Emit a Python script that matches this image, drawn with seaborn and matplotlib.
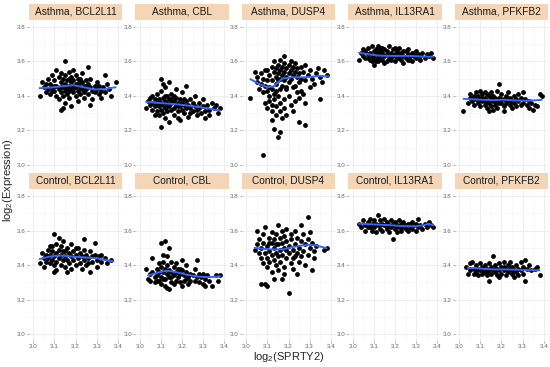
import matplotlib
matplotlib.use('Agg')
import matplotlib.pyplot as plt
from matplotlib.patches import Rectangle
import seaborn as sns
import pandas as pd

groups = ['Asthma', 'Control']
genes = ['BCL2L11', 'CBL', 'DUSP4', 'IL13RA1', 'PFKFB2']
x_ticks = [3.0, 3.1, 3.2, 3.3, 3.4]
y_ticks = [3.0, 3.2, 3.4, 3.6, 3.8]

# ---- scatter points (log2 SPRTY2, log2 expression) ----
asthma_bcl2l11 = [(3.03,3.40),(3.04,3.48),(3.05,3.45),(3.06,3.42),(3.07,3.50),(3.07,3.44),(3.08,3.47),(3.08,3.41),(3.09,3.52),(3.09,3.45),(3.10,3.43),(3.10,3.49),(3.11,3.46),(3.11,3.40),(3.12,3.51),(3.12,3.44),(3.12,3.38),(3.13,3.48),(3.13,3.42),(3.13,3.53),(3.14,3.45),(3.14,3.40),(3.14,3.50),(3.15,3.47),(3.15,3.43),(3.15,3.36),(3.15,3.52),(3.16,3.45),(3.16,3.49),(3.16,3.41),(3.17,3.54),(3.17,3.46),(3.17,3.43),(3.17,3.39),(3.18,3.48),(3.18,3.44),(3.18,3.51),(3.18,3.34),(3.19,3.46),(3.19,3.42),(3.19,3.55),(3.19,3.49),(3.20,3.45),(3.20,3.40),(3.20,3.52),(3.21,3.47),(3.21,3.43),(3.21,3.37),(3.22,3.50),(3.22,3.45),(3.22,3.41),(3.23,3.48),(3.23,3.44),(3.23,3.53),(3.24,3.46),(3.24,3.42),(3.24,3.39),(3.25,3.49),(3.25,3.44),(3.26,3.47),(3.26,3.41),(3.26,3.57),(3.27,3.45),(3.27,3.50),(3.28,3.43),(3.28,3.38),(3.29,3.46),(3.29,3.42),(3.30,3.48),(3.30,3.44),(3.31,3.41),(3.31,3.46),(3.32,3.43),(3.32,3.39),(3.33,3.45),(3.34,3.42),(3.35,3.47),(3.36,3.44),(3.37,3.40),(3.39,3.48),(3.15,3.60),(3.13,3.32),(3.14,3.33),(3.27,3.35),(3.34,3.52),(3.11,3.55),(3.20,3.47),(3.16,3.44),(3.14,3.46),(3.10,3.46),(3.22,3.48),(3.19,3.44),(3.17,3.50),(3.13,3.45),(3.25,3.46),(3.06,3.47),(3.09,3.43),(3.21,3.50)]
asthma_cbl = [(3.03,3.33),(3.04,3.37),(3.05,3.35),(3.05,3.39),(3.06,3.36),(3.06,3.32),(3.07,3.38),(3.07,3.34),(3.08,3.41),(3.08,3.36),(3.08,3.31),(3.09,3.38),(3.09,3.34),(3.09,3.29),(3.10,3.43),(3.10,3.36),(3.10,3.32),(3.10,3.50),(3.10,3.22),(3.11,3.39),(3.11,3.35),(3.11,3.30),(3.12,3.37),(3.12,3.33),(3.12,3.45),(3.12,3.27),(3.13,3.40),(3.13,3.36),(3.13,3.31),(3.14,3.38),(3.14,3.34),(3.14,3.48),(3.14,3.25),(3.15,3.36),(3.15,3.32),(3.15,3.41),(3.16,3.37),(3.16,3.33),(3.16,3.29),(3.17,3.39),(3.17,3.35),(3.17,3.44),(3.18,3.36),(3.18,3.31),(3.18,3.27),(3.19,3.38),(3.19,3.34),(3.20,3.36),(3.20,3.32),(3.20,3.42),(3.21,3.35),(3.21,3.30),(3.22,3.37),(3.22,3.33),(3.22,3.46),(3.23,3.35),(3.23,3.28),(3.24,3.38),(3.24,3.33),(3.25,3.36),(3.25,3.31),(3.26,3.34),(3.26,3.40),(3.27,3.32),(3.27,3.29),(3.28,3.36),(3.28,3.33),(3.29,3.30),(3.30,3.34),(3.30,3.38),(3.31,3.31),(3.31,3.27),(3.32,3.35),(3.33,3.32),(3.33,3.29),(3.34,3.36),(3.35,3.33),(3.36,3.35),(3.37,3.30),(3.38,3.33),(3.11,3.47),(3.19,3.26),(3.16,3.40),(3.13,3.34),(3.09,3.36),(3.21,3.38),(3.07,3.29),(3.06,3.40),(3.15,3.38),(3.18,3.34),(3.24,3.30),(3.12,3.40)]
asthma_dusp4 = [(3.10,3.55),(3.11,3.52),(3.12,3.57),(3.12,3.49),(3.13,3.54),(3.13,3.60),(3.14,3.51),(3.14,3.56),(3.14,3.47),(3.15,3.58),(3.15,3.53),(3.15,3.49),(3.16,3.55),(3.16,3.61),(3.16,3.50),(3.17,3.57),(3.17,3.52),(3.17,3.46),(3.18,3.59),(3.18,3.54),(3.18,3.49),(3.18,3.63),(3.19,3.56),(3.19,3.51),(3.19,3.44),(3.20,3.58),(3.20,3.53),(3.20,3.48),(3.21,3.55),(3.21,3.60),(3.21,3.50),(3.22,3.57),(3.22,3.52),(3.22,3.45),(3.23,3.54),(3.23,3.59),(3.24,3.51),(3.24,3.56),(3.25,3.53),(3.25,3.48),(3.26,3.57),(3.26,3.50),(3.27,3.54),(3.28,3.58),(3.28,3.49),(3.29,3.52),(3.30,3.55),(3.31,3.50),(3.32,3.47),(3.33,3.53),(3.34,3.56),(3.35,3.51),(3.37,3.55),(3.38,3.52),(3.36,3.48),(3.30,3.45),(3.02,3.39),(3.04,3.54),(3.05,3.48),(3.05,3.51),(3.06,3.44),(3.07,3.47),(3.07,3.53),(3.08,3.42),(3.08,3.50),(3.09,3.46),(3.09,3.55),(3.10,3.43),(3.10,3.49),(3.11,3.45),(3.11,3.40),(3.12,3.44),(3.13,3.41),(3.14,3.43),(3.09,3.36),(3.10,3.33),(3.11,3.37),(3.12,3.31),(3.12,3.35),(3.13,3.38),(3.14,3.29),(3.14,3.34),(3.15,3.40),(3.16,3.36),(3.16,3.31),(3.17,3.27),(3.18,3.38),(3.18,3.33),(3.19,3.29),(3.20,3.40),(3.21,3.35),(3.22,3.31),(3.23,3.37),(3.24,3.42),(3.25,3.39),(3.26,3.43),(3.27,3.41),(3.28,3.36),(3.15,3.16),(3.16,3.19),(3.13,3.21),(3.12,3.26),(3.25,3.25),(3.28,3.23),(3.08,3.06),(3.35,3.38),(3.19,3.45),(3.23,3.46),(3.16,3.44)]
asthma_il13ra1 = [(3.03,3.61),(3.04,3.65),(3.05,3.67),(3.05,3.63),(3.06,3.66),(3.06,3.62),(3.07,3.68),(3.07,3.64),(3.08,3.65),(3.08,3.61),(3.09,3.69),(3.09,3.63),(3.10,3.66),(3.10,3.62),(3.10,3.58),(3.11,3.64),(3.11,3.67),(3.12,3.62),(3.12,3.65),(3.12,3.60),(3.13,3.68),(3.13,3.63),(3.14,3.65),(3.14,3.61),(3.15,3.67),(3.15,3.63),(3.15,3.59),(3.16,3.64),(3.16,3.66),(3.17,3.62),(3.17,3.69),(3.18,3.65),(3.18,3.61),(3.19,3.63),(3.19,3.67),(3.20,3.64),(3.20,3.60),(3.21,3.66),(3.21,3.62),(3.22,3.64),(3.22,3.68),(3.23,3.61),(3.23,3.65),(3.24,3.63),(3.24,3.59),(3.25,3.66),(3.25,3.62),(3.26,3.64),(3.26,3.67),(3.27,3.61),(3.27,3.63),(3.28,3.65),(3.28,3.60),(3.29,3.63),(3.30,3.62),(3.30,3.66),(3.31,3.64),(3.32,3.61),(3.32,3.63),(3.33,3.65),(3.34,3.62),(3.35,3.64),(3.36,3.63),(3.37,3.65),(3.38,3.62),(3.11,3.60),(3.14,3.68),(3.18,3.63),(3.20,3.68),(3.16,3.60),(3.13,3.66),(3.22,3.62),(3.09,3.60),(3.07,3.62),(3.24,3.66),(3.26,3.61),(3.12,3.69),(3.29,3.65)]
asthma_pfkfb2 = [(3.02,3.31),(3.04,3.36),(3.05,3.39),(3.05,3.41),(3.06,3.37),(3.07,3.40),(3.07,3.35),(3.08,3.42),(3.08,3.38),(3.09,3.36),(3.09,3.40),(3.10,3.43),(3.10,3.38),(3.10,3.34),(3.11,3.41),(3.11,3.37),(3.12,3.39),(3.12,3.35),(3.12,3.42),(3.13,3.37),(3.13,3.33),(3.14,3.40),(3.14,3.36),(3.15,3.38),(3.15,3.42),(3.15,3.34),(3.16,3.37),(3.16,3.40),(3.17,3.35),(3.17,3.39),(3.18,3.43),(3.18,3.37),(3.18,3.33),(3.19,3.47),(3.19,3.39),(3.20,3.36),(3.20,3.41),(3.21,3.38),(3.21,3.34),(3.22,3.40),(3.22,3.36),(3.23,3.38),(3.23,3.42),(3.24,3.35),(3.24,3.39),(3.25,3.37),(3.25,3.33),(3.26,3.40),(3.26,3.36),(3.27,3.38),(3.27,3.34),(3.28,3.41),(3.28,3.37),(3.29,3.35),(3.29,3.39),(3.30,3.36),(3.31,3.38),(3.32,3.35),(3.33,3.37),(3.33,3.33),(3.34,3.36),(3.35,3.32),(3.36,3.35),(3.37,3.34),(3.38,3.41),(3.39,3.40),(3.14,3.31),(3.16,3.32),(3.21,3.31),(3.11,3.39),(3.13,3.41),(3.19,3.36),(3.06,3.39),(3.09,3.38),(3.22,3.38),(3.17,3.37),(3.20,3.38),(3.30,3.42),(3.12,3.37),(3.24,3.37)]
control_bcl2l11 = [(3.03,3.41),(3.04,3.47),(3.05,3.44),(3.05,3.39),(3.06,3.46),(3.06,3.42),(3.07,3.49),(3.07,3.44),(3.08,3.51),(3.08,3.41),(3.08,3.46),(3.09,3.43),(3.09,3.48),(3.10,3.58),(3.10,3.45),(3.10,3.36),(3.10,3.40),(3.11,3.52),(3.11,3.47),(3.11,3.42),(3.11,3.37),(3.12,3.56),(3.12,3.49),(3.12,3.44),(3.13,3.46),(3.13,3.40),(3.13,3.51),(3.14,3.43),(3.14,3.48),(3.14,3.54),(3.15,3.45),(3.15,3.39),(3.16,3.50),(3.16,3.43),(3.16,3.36),(3.17,3.47),(3.17,3.41),(3.18,3.52),(3.18,3.45),(3.18,3.38),(3.19,3.48),(3.19,3.43),(3.20,3.46),(3.20,3.40),(3.21,3.50),(3.21,3.44),(3.22,3.47),(3.22,3.41),(3.23,3.45),(3.23,3.38),(3.24,3.55),(3.24,3.49),(3.24,3.43),(3.25,3.46),(3.26,3.44),(3.26,3.41),(3.27,3.48),(3.27,3.36),(3.28,3.45),(3.28,3.42),(3.29,3.53),(3.29,3.46),(3.30,3.43),(3.30,3.39),(3.31,3.45),(3.32,3.42),(3.32,3.46),(3.34,3.44),(3.35,3.41),(3.37,3.43),(3.15,3.48),(3.20,3.50),(3.25,3.40),(3.09,3.51)]
control_cbl = [(3.03,3.38),(3.04,3.32),(3.05,3.35),(3.05,3.31),(3.06,3.44),(3.06,3.36),(3.07,3.33),(3.07,3.30),(3.08,3.38),(3.08,3.34),(3.09,3.41),(3.09,3.31),(3.09,3.36),(3.10,3.53),(3.10,3.39),(3.10,3.33),(3.10,3.29),(3.11,3.46),(3.11,3.36),(3.11,3.42),(3.12,3.54),(3.12,3.38),(3.12,3.32),(3.12,3.28),(3.13,3.45),(3.13,3.40),(3.13,3.35),(3.13,3.27),(3.14,3.50),(3.14,3.37),(3.14,3.33),(3.14,3.26),(3.15,3.42),(3.15,3.36),(3.15,3.30),(3.16,3.39),(3.16,3.34),(3.17,3.41),(3.17,3.36),(3.17,3.31),(3.18,3.38),(3.18,3.33),(3.19,3.35),(3.19,3.30),(3.20,3.37),(3.20,3.28),(3.20,3.43),(3.21,3.34),(3.21,3.31),(3.22,3.36),(3.22,3.40),(3.23,3.33),(3.23,3.29),(3.24,3.35),(3.24,3.31),(3.25,3.34),(3.26,3.38),(3.26,3.31),(3.27,3.43),(3.27,3.33),(3.28,3.35),(3.28,3.30),(3.29,3.33),(3.30,3.35),(3.30,3.29),(3.31,3.32),(3.31,3.28),(3.32,3.34),(3.33,3.31),(3.34,3.28),(3.36,3.34),(3.37,3.31),(3.38,3.34),(3.16,3.29),(3.18,3.36),(3.11,3.32),(3.15,3.33),(3.19,3.38),(3.08,3.31),(3.22,3.32)]
control_dusp4 = [(3.04,3.49),(3.05,3.60),(3.05,3.52),(3.06,3.47),(3.06,3.55),(3.07,3.44),(3.07,3.50),(3.07,3.29),(3.08,3.58),(3.08,3.41),(3.08,3.53),(3.09,3.47),(3.09,3.62),(3.09,3.29),(3.10,3.51),(3.10,3.44),(3.10,3.39),(3.10,3.28),(3.11,3.56),(3.11,3.48),(3.11,3.42),(3.12,3.53),(3.12,3.59),(3.12,3.46),(3.12,3.36),(3.13,3.50),(3.13,3.55),(3.13,3.32),(3.13,3.43),(3.14,3.58),(3.14,3.47),(3.14,3.40),(3.15,3.63),(3.15,3.52),(3.15,3.45),(3.15,3.37),(3.16,3.56),(3.16,3.49),(3.16,3.42),(3.17,3.60),(3.17,3.53),(3.17,3.46),(3.17,3.32),(3.18,3.57),(3.18,3.50),(3.18,3.39),(3.18,3.35),(3.19,3.54),(3.19,3.44),(3.19,3.61),(3.20,3.51),(3.20,3.47),(3.20,3.24),(3.21,3.58),(3.21,3.41),(3.21,3.55),(3.22,3.49),(3.22,3.44),(3.22,3.38),(3.23,3.60),(3.23,3.52),(3.24,3.47),(3.24,3.35),(3.24,3.56),(3.25,3.50),(3.25,3.42),(3.26,3.63),(3.26,3.54),(3.26,3.45),(3.27,3.58),(3.27,3.48),(3.28,3.52),(3.28,3.40),(3.29,3.68),(3.29,3.55),(3.29,3.46),(3.30,3.59),(3.30,3.50),(3.31,3.37),(3.31,3.53),(3.32,3.48),(3.32,3.44),(3.33,3.51),(3.38,3.50),(3.37,3.49),(3.14,3.52),(3.19,3.49),(3.23,3.45),(3.11,3.53)]
control_il13ra1 = [(3.03,3.64),(3.04,3.62),(3.05,3.66),(3.06,3.63),(3.06,3.60),(3.07,3.65),(3.08,3.62),(3.08,3.67),(3.09,3.64),(3.09,3.60),(3.10,3.66),(3.10,3.62),(3.11,3.64),(3.11,3.59),(3.12,3.69),(3.12,3.63),(3.13,3.66),(3.13,3.61),(3.14,3.64),(3.14,3.60),(3.15,3.67),(3.15,3.63),(3.16,3.61),(3.16,3.65),(3.17,3.63),(3.17,3.59),(3.18,3.66),(3.18,3.62),(3.19,3.64),(3.19,3.55),(3.20,3.61),(3.20,3.65),(3.21,3.63),(3.21,3.59),(3.22,3.66),(3.22,3.62),(3.23,3.64),(3.23,3.60),(3.24,3.62),(3.24,3.65),(3.25,3.61),(3.25,3.63),(3.26,3.64),(3.26,3.60),(3.27,3.62),(3.28,3.65),(3.28,3.61),(3.29,3.63),(3.30,3.60),(3.30,3.64),(3.31,3.67),(3.31,3.62),(3.32,3.63),(3.33,3.61),(3.34,3.64),(3.35,3.62),(3.36,3.65),(3.37,3.63),(3.38,3.62),(3.13,3.63),(3.16,3.62),(3.20,3.63),(3.10,3.64),(3.07,3.62),(3.23,3.62),(3.27,3.64)]
control_pfkfb2 = [(3.03,3.39),(3.04,3.35),(3.05,3.41),(3.05,3.37),(3.06,3.42),(3.07,3.38),(3.07,3.35),(3.08,3.40),(3.08,3.36),(3.09,3.38),(3.09,3.34),(3.10,3.41),(3.10,3.37),(3.11,3.39),(3.11,3.35),(3.12,3.40),(3.12,3.36),(3.13,3.38),(3.13,3.34),(3.14,3.41),(3.14,3.31),(3.14,3.37),(3.15,3.39),(3.15,3.35),(3.16,3.45),(3.16,3.37),(3.17,3.40),(3.17,3.36),(3.18,3.38),(3.18,3.34),(3.19,3.41),(3.19,3.37),(3.20,3.39),(3.20,3.35),(3.21,3.42),(3.21,3.37),(3.22,3.38),(3.22,3.34),(3.23,3.40),(3.23,3.36),(3.24,3.38),(3.24,3.42),(3.25,3.35),(3.25,3.39),(3.26,3.37),(3.26,3.33),(3.27,3.40),(3.27,3.36),(3.28,3.38),(3.28,3.34),(3.29,3.42),(3.29,3.37),(3.30,3.39),(3.30,3.35),(3.31,3.31),(3.31,3.43),(3.32,3.38),(3.33,3.40),(3.34,3.37),(3.36,3.38),(3.37,3.39),(3.38,3.34),(3.13,3.36),(3.17,3.38),(3.21,3.39),(3.25,3.37),(3.11,3.37),(3.19,3.33)]

# ---- smoothed trend (loess) ----
smooth_asthma_bcl2l11 = ([3.03,3.08,3.13,3.19,3.24,3.29,3.34,3.39], [3.445,3.448,3.455,3.462,3.450,3.437,3.440,3.450])
smooth_asthma_cbl = ([3.03,3.10,3.17,3.24,3.31,3.38], [3.365,3.358,3.352,3.342,3.330,3.315])
smooth_asthma_dusp4 = ([3.02,3.06,3.10,3.13,3.17,3.22,3.28,3.34,3.39], [3.497,3.470,3.450,3.455,3.500,3.508,3.508,3.515,3.513])
smooth_asthma_il13ra1 = ([3.03,3.08,3.13,3.20,3.27,3.33,3.38], [3.650,3.640,3.633,3.632,3.632,3.628,3.627])
smooth_asthma_pfkfb2 = ([3.02,3.10,3.16,3.21,3.27,3.33,3.39], [3.383,3.378,3.375,3.378,3.373,3.372,3.377])
smooth_control_bcl2l11 = ([3.03,3.08,3.12,3.18,3.24,3.30,3.35,3.38], [3.435,3.450,3.456,3.450,3.445,3.440,3.428,3.422])
smooth_control_cbl = ([3.04,3.08,3.13,3.17,3.22,3.28,3.33,3.38], [3.340,3.355,3.368,3.360,3.345,3.333,3.330,3.335])
smooth_control_dusp4 = ([3.04,3.10,3.17,3.22,3.27,3.31,3.35,3.38], [3.500,3.492,3.490,3.505,3.515,3.518,3.508,3.498])
smooth_control_il13ra1 = ([3.03,3.10,3.17,3.24,3.30,3.34,3.36,3.38], [3.640,3.636,3.632,3.626,3.625,3.633,3.640,3.630])
smooth_control_pfkfb2 = ([3.04,3.10,3.16,3.22,3.28,3.34,3.38], [3.385,3.380,3.375,3.375,3.373,3.371,3.370])

points = {
    ('Asthma', 'BCL2L11'): asthma_bcl2l11, ('Asthma', 'CBL'): asthma_cbl,
    ('Asthma', 'DUSP4'): asthma_dusp4, ('Asthma', 'IL13RA1'): asthma_il13ra1,
    ('Asthma', 'PFKFB2'): asthma_pfkfb2,
    ('Control', 'BCL2L11'): control_bcl2l11, ('Control', 'CBL'): control_cbl,
    ('Control', 'DUSP4'): control_dusp4, ('Control', 'IL13RA1'): control_il13ra1,
    ('Control', 'PFKFB2'): control_pfkfb2,
}
smooths = {
    ('Asthma', 'BCL2L11'): smooth_asthma_bcl2l11, ('Asthma', 'CBL'): smooth_asthma_cbl,
    ('Asthma', 'DUSP4'): smooth_asthma_dusp4, ('Asthma', 'IL13RA1'): smooth_asthma_il13ra1,
    ('Asthma', 'PFKFB2'): smooth_asthma_pfkfb2,
    ('Control', 'BCL2L11'): smooth_control_bcl2l11, ('Control', 'CBL'): smooth_control_cbl,
    ('Control', 'DUSP4'): smooth_control_dusp4, ('Control', 'IL13RA1'): smooth_control_il13ra1,
    ('Control', 'PFKFB2'): smooth_control_pfkfb2,
}

sns.set_theme(style='white')
plt.rcParams['font.family'] = ['Liberation Sans', 'DejaVu Sans']
plt.rcParams['mathtext.default'] = 'regular'

W, H = 550, 367
fig, axes = plt.subplots(2, 5, figsize=(W / 100, H / 100), dpi=100)
fig.subplots_adjust(left=29 / W, right=548 / W, top=1 - 20 / H, bottom=1 - 341 / H,
                    wspace=0.145, hspace=0.115)

strip_h = 16.5 / H
for r, grp in enumerate(groups):
    for c, gene in enumerate(genes):
        ax = axes[r, c]
        pts = pd.DataFrame(points[(grp, gene)], columns=['x', 'y'])
        sx, sy = smooths[(grp, gene)]
        sm = pd.DataFrame({'x': sx, 'y': sy})
        sns.scatterplot(data=pts, x='x', y='y', ax=ax, color='black', s=12,
                        linewidth=0, zorder=3)
        sns.lineplot(data=sm, x='x', y='y', ax=ax, color='#3366FF', lw=1.4,
                     zorder=4, estimator=None)
        ax.set_xlim(2.98, 3.42)
        ax.set_ylim(2.96, 3.84)
        ax.set_xticks(x_ticks)
        ax.set_yticks(y_ticks)
        ax.set_xticks([3.05, 3.15, 3.25, 3.35], minor=True)
        ax.set_yticks([3.1, 3.3, 3.5, 3.7], minor=True)
        ax.set_yticklabels([f'{v:.1f}' for v in y_ticks])
        ax.set_xticklabels([f'{v:.1f}' for v in x_ticks])
        ax.grid(True, which='major', color='#EBEBEB', lw=0.6)
        ax.grid(True, which='minor', color='#F3F3F3', lw=0.4)
        ax.set_axisbelow(True)
        for s in ax.spines.values():
            s.set_visible(False)
        ax.set_xlabel('')
        ax.set_ylabel('')
        ax.tick_params(axis='both', which='major', labelsize=4.5, labelcolor='#666666',
                       color='#888888', length=1.5, width=0.5, pad=1)
        ax.tick_params(axis='both', which='minor', length=0)
        ax.tick_params(axis='y', left=True)
        if r == 0:
            ax.tick_params(axis='x', bottom=False, labelbottom=False)
        else:
            ax.tick_params(axis='x', bottom=True, labelbottom=True)
        pos = ax.get_position()
        fig.patches.append(Rectangle((pos.x0, pos.y1), pos.width, strip_h,
                                     transform=fig.transFigure, facecolor='#F4D6B7',
                                     edgecolor='none', zorder=1))
        fig.text(pos.x0 + pos.width / 2, pos.y1 + strip_h / 2, f'{grp}, {gene}',
                 ha='center', va='center', fontsize=7.3, color='#1A1A1A')

fig.text(288.5 / W, 1 - 357 / H, r'log$_2$(SPRTY2)', ha='center', va='center', fontsize=8)
fig.text(8 / W, 1 - 180 / H, r'log$_2$(Expression)', ha='center', va='center',
         rotation=90, fontsize=8)

fig.savefig('out.png', dpi=100)
